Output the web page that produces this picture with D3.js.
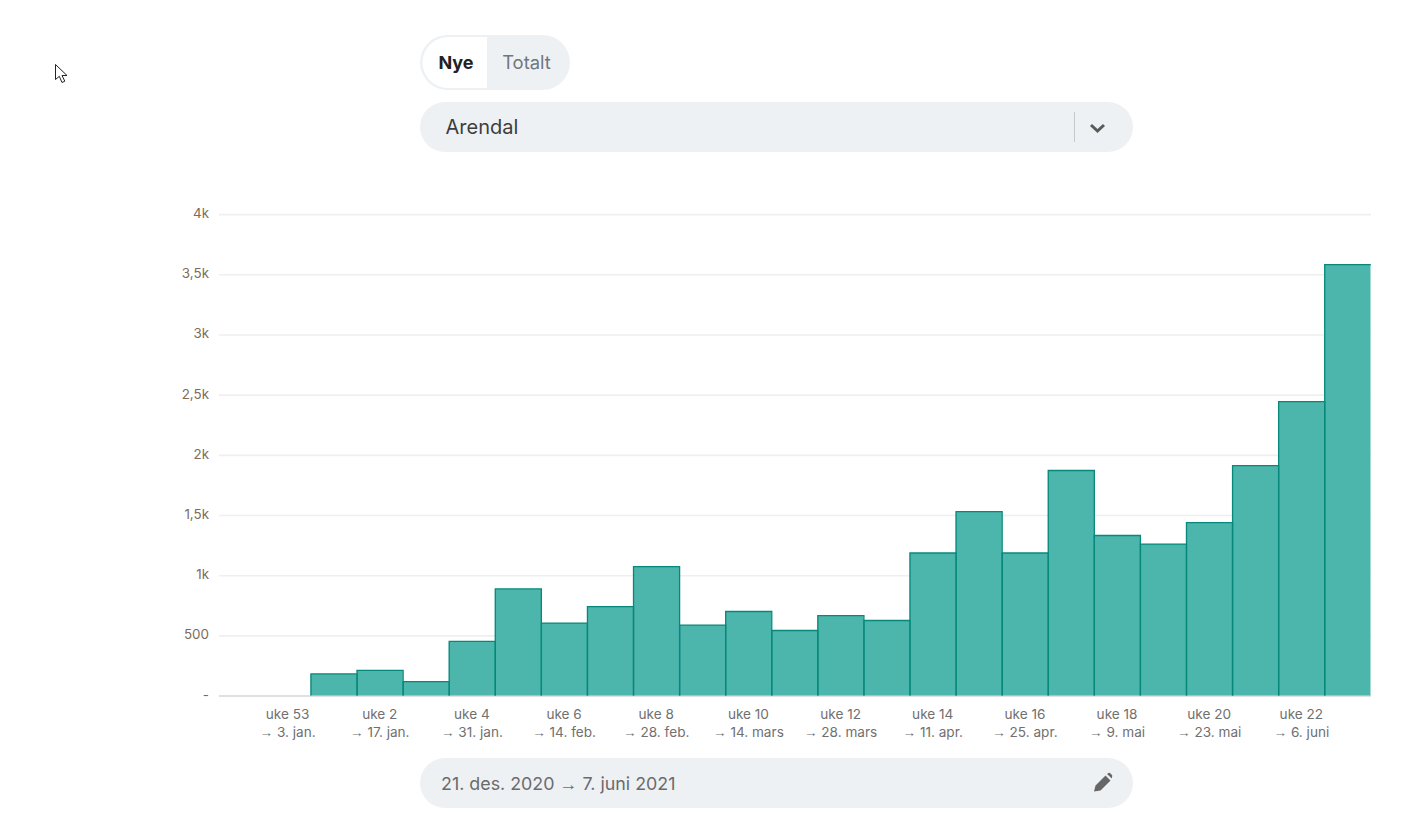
<!DOCTYPE html>
<html lang="no"><head><meta charset="utf-8">
<style>
html,body{margin:0;padding:0;background:#fff;overflow:hidden}
svg{display:block;font-family:Inter,"Noto Sans",sans-serif}
</style>
<script src="https://cdn.jsdelivr.net/npm/d3@7"></script>
</head><body><svg id="c" width="1420" height="814"></svg>
<script>
const weeks=["52","53","1","2","3","4","5","6","7","8","9","10","11","12","13","14","15","16","17","18","19","20","21","22","23"];
const values=[0,0,179,208,116,449,885,602,739,1071,585,698,540,664,623,1184,1528,1184,1869,1329,1258,1436,1910,2442,3580];
const tickWeeks=["53","2","4","6","8","10","12","14","16","18","20","22"];
const tickDates=["3. jan.","17. jan.","31. jan.","14. feb.","28. feb.","14. mars","28. mars","11. apr.","25. apr.","9. mai","23. mai","6. juni"];
const yTicks=[0,500,1000,1500,2000,2500,3000,3500,4000];
const yLabels=["-","500","1k","1,5k","2k","2,5k","3k","3,5k","4k"];

const svg=d3.select("#c");
const x=d3.scaleBand().domain(weeks).range([218.5,1370.5]);
const y=d3.scaleLinear().domain([0,4000]).range([695.5,214]);
const arrowFont="'Liberation Sans',sans-serif";

// grid
svg.append("g").selectAll("line").data(yTicks).join("line")
  .attr("x1",219).attr("x2",1371).attr("y1",d=>y(d)+.6).attr("y2",d=>y(d)+.6)
  .attr("stroke",d=>d===0?"#e0e0e4":"#efefef").attr("stroke-width",d=>d===0?2:1.6);
svg.append("g").selectAll("text").data(yTicks).join("text")
  .attr("x",209).attr("y",d=>y(d)+4).attr("text-anchor","end")
  .attr("font-size",13.4).attr("fill","#7d6c58").text((d,i)=>yLabels[i]);

// bars
svg.append("g").selectAll("rect").data(values.map((v,i)=>({v,w:weeks[i]})).filter(d=>d.v>0)).join("rect")
  .attr("x",d=>x(d.w)).attr("width",x.bandwidth())
  .attr("y",d=>y(d.v)).attr("height",d=>y(0)-y(d.v))
  .attr("fill","#4cb5ac");
const barG=svg.append("g").attr("fill","none").attr("stroke","#06897b").attr("stroke-width",1.3);
barG.selectAll("path").data(values.map((v,i)=>({v,w:weeks[i]})).filter(d=>d.v>0)).join("path")
  .attr("d",d=>{
    const a=x(d.w)+.3,b=x(d.w)+x.bandwidth()+.3,t=y(d.v),z=y(0);
    return d3.line()(d.w==="23"?[[a,z],[a,t],[b,t]]:[[a,z],[a,t],[b,t],[b,z]]);
  });

// x ticks
const xt=svg.append("g").attr("font-size",13.6).attr("fill","#707070").attr("text-anchor","middle");
tickWeeks.forEach((w,i)=>{
  const cx=x(w)+x.bandwidth()/2;
  xt.append("text").attr("x",cx).attr("y",719).text("uke "+w);
  const t=xt.append("text").attr("x",cx).attr("y",737);
  t.append("tspan").attr("font-family",arrowFont).text("→ ");
  t.append("tspan").text(tickDates[i]);
});

// toggle
svg.append("rect").attr("x",420).attr("y",35).attr("width",150).attr("height",55).attr("rx",27.5).attr("fill","#eef1f4");
svg.append("path").attr("d","M487 37H448A25.5 25.5 0 0 0 448 88H487Z").attr("fill","#fff");
svg.append("text").attr("x",456).attr("y",68.5).attr("text-anchor","middle").attr("font-size",18).attr("font-weight",700).attr("fill","#222").text("Nye");
svg.append("text").attr("x",526.5).attr("y",68.5).attr("text-anchor","middle").attr("font-size",18.4).attr("fill","#6f7780").text("Totalt");

// dropdown
svg.append("rect").attr("x",420).attr("y",102).attr("width",713).attr("height",50).attr("rx",25).attr("fill","#eef1f4");
svg.append("text").attr("x",445.5).attr("y",133.5).attr("font-size",20).attr("fill","#3d3d3d").text("Arendal");
svg.append("line").attr("x1",1074.5).attr("x2",1074.5).attr("y1",112).attr("y2",142).attr("stroke","#c6c8ca");
svg.append("path").attr("d","M1091 125L1097.5 131L1104 125").attr("fill","none").attr("stroke","#5a5a5a").attr("stroke-width",3);

// date field
svg.append("rect").attr("x",420).attr("y",758).attr("width",713).attr("height",50).attr("rx",25).attr("fill","#eef1f4");
const dt=svg.append("text").attr("x",441).attr("y",790).attr("font-size",17.85).attr("fill","#6b6b6b");
dt.append("tspan").text("21. des. 2020 ");
dt.append("tspan").attr("font-family",arrowFont).text("→");
dt.append("tspan").text(" 7. juni 2021");
svg.append("path").attr("d","M1094 791.5L1095.5 785.5L1105.5 775.5L1110.5 780.5L1100.5 790.5Z M1107 774L1108.5 773Q1109.5 772.5 1110.5 773.5L1112 775Q1112.6 776 1112 777L1111.8 778.5Z").attr("fill","#666");

// cursor
svg.append("path").attr("d","M55.5 64.5V79.5L59.3 76.3L62 82.5L64.8 81.2L62 75.5H67Z").attr("fill","#fff").attr("stroke","#222").attr("stroke-width",1);
</script></body></html>
